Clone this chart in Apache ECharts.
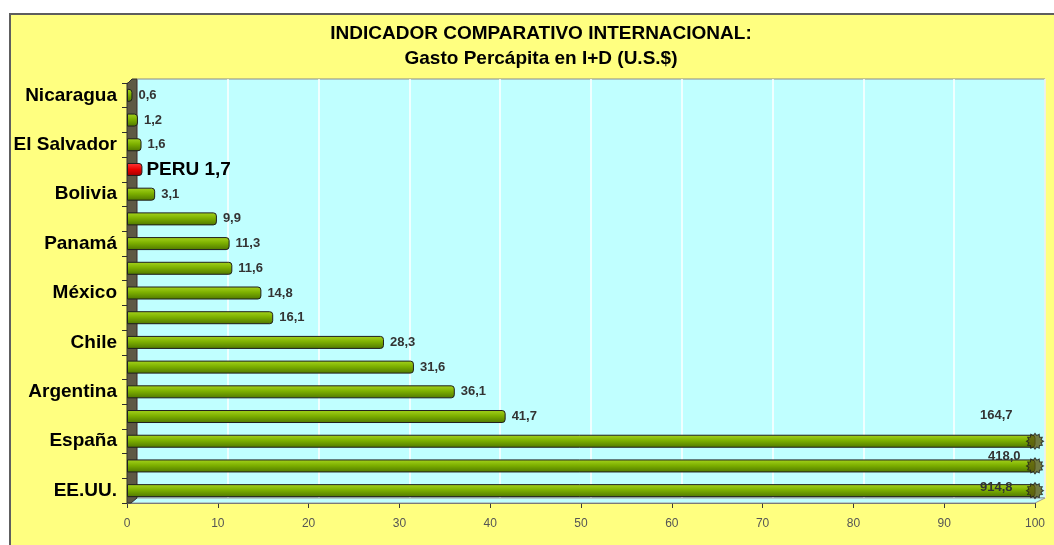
<!DOCTYPE html>
<html>
<head>
<meta charset="utf-8">
<script src="https://cdn.jsdelivr.net/npm/echarts@6/dist/echarts.min.js"></script>
<style>
  html, body { margin: 0; padding: 0; background: #ffffff; }
  #frame { position: absolute; left: 9px; top: 13px; width: 1060px; height: 545px;
           background: #FFFF80; border: 2px solid #5e5e5e; box-sizing: border-box; }
  #chart { position: absolute; left: 0; top: 0; width: 1054px; height: 545px; }
</style>
</head>
<body>
<div id="frame"></div>
<div id="chart"></div>
<script>
// ---- data ----
const categories = ['Nicaragua', '', 'El Salvador', '', 'Bolivia', '', 'Panamá', '', 'México', '', 'Chile', '', 'Argentina', '', 'España', '', 'EE.UU.'];
const values = [0.6, 1.2, 1.6, 1.7, 3.1, 9.9, 11.3, 11.6, 14.8, 16.1, 28.3, 31.6, 36.1, 41.7, 164.7, 418.0, 914.8];
const highlightIndex = 3;
const highlightName = 'PERU';
const axisMin = 0;
const axisMax = 100;
const axisStep = 10;
const titleText = 'INDICADOR COMPARATIVO INTERNACIONAL:';
const subtitleText = 'Gasto Percápita en I+D (U.S.$)';

// ---- styles for labels of bars cut off at the axis end ----
const overflowLabelOffsets = [[0, -26], [8, -10], [0, -3]];

const fmt = v => v.toFixed(1).replace('.', ',');

const greenGrad = new echarts.graphic.LinearGradient(0, 0, 0, 1, [
  { offset: 0, color: '#A6D41E' },
  { offset: 0.45, color: '#7DB000' },
  { offset: 1, color: '#4E7600' }
]);
const redGrad = new echarts.graphic.LinearGradient(0, 0, 0, 1, [
  { offset: 0, color: '#FF3A3A' },
  { offset: 0.5, color: '#E80000' },
  { offset: 1, color: '#A00000' }
]);

let overflowCount = 0;
const barData = values.map((v, i) => {
  const item = { value: v };
  if (i === highlightIndex) {
    item.itemStyle = { color: redGrad };
    item.label = {
      formatter: highlightName + ' ' + fmt(v),
      fontSize: 19, color: '#000', distance: 4, fontWeight: 'bold'
    };
  } else if (v > axisMax) {
    const off = overflowLabelOffsets[overflowCount++] || [0, 0];
    item.label = { position: 'insideRight', distance: 23, offset: off };
  }
  return item;
});

// jagged end-cap symbol for bars that run past the axis end
let capPath = 'path://';
const spikes = 12;
for (let k = 0; k < spikes * 2; k++) {
  const r = k % 2 === 0 ? 10 : 7.5;
  const a = Math.PI * k / spikes;
  capPath += (k === 0 ? 'M' : 'L') + (10 + r * Math.cos(a)).toFixed(2) + ' ' + (10 + r * Math.sin(a)).toFixed(2) + ' ';
}
capPath += 'Z';
const capData = values.map((v, i) => v > axisMax ? [axisMax, i] : null).filter(d => d);

const chart = echarts.init(document.getElementById('chart'), null, { renderer: 'canvas' });
chart.setOption({
  backgroundColor: 'transparent',
  animation: false,
  title: {
    text: titleText,
    subtext: subtitleText,
    left: 536,
    textAlign: 'center',
    top: 19,
    itemGap: 6,
    textStyle: { fontFamily: 'Liberation Sans', fontWeight: 'bold', fontSize: 19, color: '#000' },
    subtextStyle: { fontFamily: 'Liberation Sans', fontWeight: 'bold', fontSize: 19, color: '#000' }
  },
  graphic: [
    { type: 'polygon', z: 1, silent: true,
      shape: { points: [[127, 503], [137, 498], [1045, 498], [1035, 503]] },
      style: { fill: '#C0FFFF', stroke: '#9a9a9a', lineWidth: 1 } },
    { type: 'polygon', z: 1, silent: true,
      shape: { points: [[127, 84], [132, 79], [137, 79], [137, 498], [131, 503], [127, 503]] },
      style: { fill: '#5E5944', stroke: '#2e2e2e', lineWidth: 1 } }
  ],
  grid: [
    { left: 127, right: 19, top: 83, bottom: 42, containLabel: false },
    { left: 137, right: 9, top: 79, bottom: 47, show: true, backgroundColor: '#C0FFFF',
      borderColor: '#8a8a8a', borderWidth: 1 }
  ],
  xAxis: [
    { type: 'value', gridIndex: 0, min: axisMin, max: axisMax, interval: axisStep,
      axisLine: { show: true, lineStyle: { color: '#5a5a5a', width: 1 } },
      axisTick: { show: true, length: 5, lineStyle: { color: '#3a3a3a' } },
      axisLabel: { margin: 15, fontSize: 12, color: '#555', fontFamily: 'Liberation Sans' },
      splitLine: { show: false } },
    { type: 'value', gridIndex: 1, min: axisMin, max: axisMax, interval: axisStep,
      axisLine: { show: false }, axisTick: { show: false }, axisLabel: { show: false },
      splitLine: { show: true, lineStyle: { color: '#ffffff', width: 1.5 } } }
  ],
  yAxis: [
    { type: 'category', gridIndex: 0, data: categories, inverse: true,
      axisLine: { show: true, lineStyle: { color: '#2e2e2e' } },
      axisTick: { show: true, interval: 0, length: 5, lineStyle: { color: '#2e2e2e' } },
      axisLabel: { interval: 1, margin: 10, fontSize: 19, fontWeight: 'bold', color: '#000',
                   fontFamily: 'Liberation Sans' },
      splitLine: { show: false } },
    { type: 'value', gridIndex: 1, min: 0, max: 1, show: false }
  ],
  series: [
    { type: 'bar', xAxisIndex: 0, yAxisIndex: 0, data: barData, barWidth: 13, z: 3,
      itemStyle: { color: greenGrad, borderColor: '#1e1e1e', borderWidth: 1, borderRadius: [0, 3, 3, 0] },
      label: { show: true, position: 'right', distance: 6, formatter: p => fmt(p.value),
               fontSize: 13, fontWeight: 'bold', color: '#333', fontFamily: 'Liberation Sans' } },
    { type: 'scatter', xAxisIndex: 0, yAxisIndex: 0, data: capData, symbol: capPath,
      symbolSize: [17, 16], z: 4, clip: false,
      itemStyle: { color: '#5C5A12', borderColor: '#1e1e1e', borderWidth: 1 } }
  ]
});
</script>
</body>
</html>
